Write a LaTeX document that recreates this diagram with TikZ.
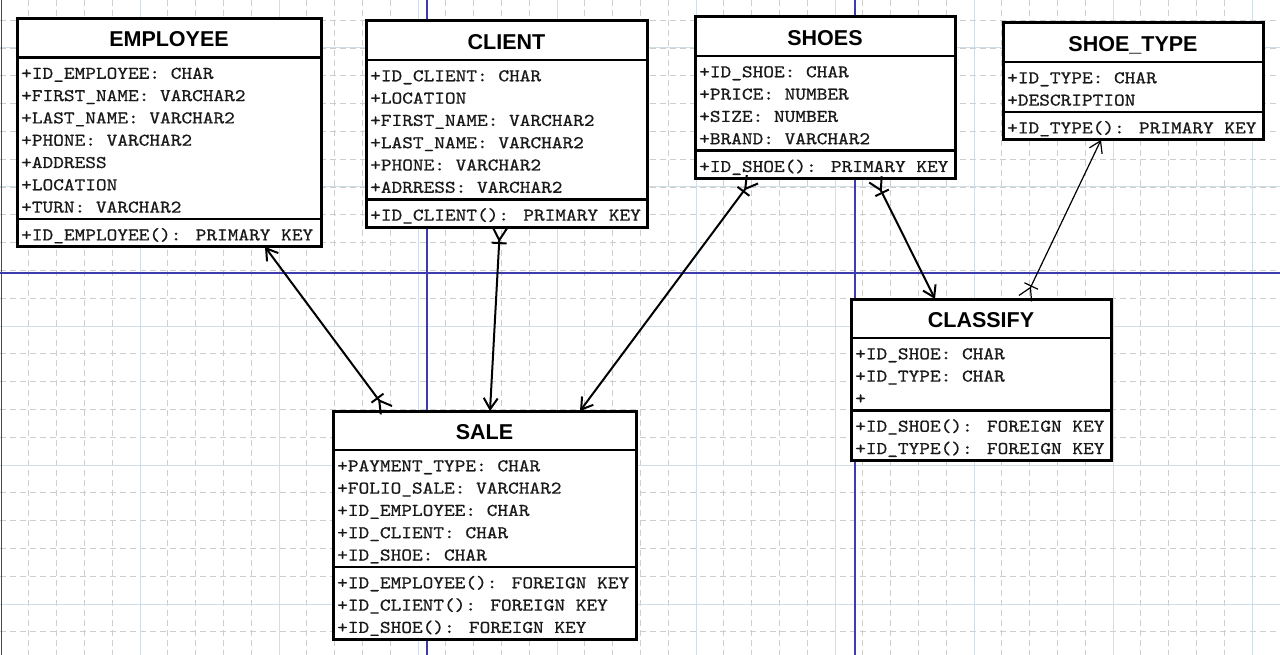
\documentclass[tikz,border=0pt]{standalone}
\usepackage{fontspec}
\setmainfont{Liberation Sans}
\newfontfamily\umlmono[Extension=.otf, FakeStretch=1.14, FakeBold=0.7]{lmmono10-regular}
\usetikzlibrary{calc,arrows.meta}
\definecolor{gridgray}{RGB}{205,205,205}
\definecolor{gridblue}{RGB}{208,222,232}
\definecolor{pageblue}{RGB}{60,60,175}
% class box: name, left, top, width, title, attributes, methods
\newcommand{\umlclass}[7]{%
  \pgfmathsetmacro\ya{#3+39}%
  \foreach \txt [count=\ii] in {#6}{\xdef\na{\ii}}%
  \foreach \txt [count=\ii] in {#7}{\xdef\nm{\ii}}%
  \pgfmathsetmacro\yb{\ya+22.3*\na+5.5}%
  \pgfmathsetmacro\hh{\yb+22.3*\nm+5.5-#3}%
  \node[umlbox, minimum width=#4, minimum height=\hh, anchor=north west] (#1) at (#2,#3) {};
  \node[umltitle] (#1-title) at ({#2+#4/2},{#3+28.5}) {#5};
  \draw[umlline] (#2,\ya) -- ++(#4,0);
  \draw[umlline] (#2,\yb) -- ++(#4,0);
  \foreach \txt [count=\ii] in {#6}
    \node[umltext] (#1-a\ii) at ({#2+4},{\ya+22.3*\ii-1}) {\txt};
  \foreach \txt [count=\ii] in {#7}
    \node[umltext] (#1-m\ii) at ({#2+4},{\yb+22.3*\ii-1}) {\txt};
}

\begin{document}
\begin{tikzpicture}[x=1pt,y=-1pt,
    minorgrid/.style={draw=gridgray, line width=0.8pt, dash pattern=on 6pt off 4pt},
    majorgrid/.style={draw=gridblue, line width=1pt},
    pageline/.style={draw=pageblue, line width=1.4pt},
    umlbox/.style={draw, line width=3pt, fill=white, inner sep=0pt, outer sep=0pt},
    umlline/.style={line width=2.5pt},
    umltitle/.style={anchor=base, inner sep=0pt, font=\bfseries\fontsize{21.5}{21.5}\selectfont},
    umltext/.style={anchor=base west, inner sep=0pt, text=black!90, font=\umlmono\fontsize{17.85}{22.3}\selectfont},
    rel/.style={line width=2pt,
      {Straight Barb[reversed,length=12pt,width=14pt]Bar[width=15pt]}-{Straight Barb[length=11pt,width=14pt]}}]
  %%%%% START %%%%%

  \useasboundingbox[fill=white] (0,0) rectangle (1280,655);

  % grid
  \foreach \i in {0,...,45} \draw[minorgrid] ({1+27.8*\i},0) -- ++(0,655);
  \foreach \j in {0,...,23} \draw[minorgrid] (0,{20.2+27.8*\j}) -- ++(1280,0);
  \foreach \i in {0,...,9} \draw[majorgrid] ({1+139*\i},0) -- ++(0,655);
  \foreach \j in {0,...,4} \draw[majorgrid] (0,{48+139*\j}) -- ++(1280,0);
  \foreach \i in {1.5,427,855} \draw[pageline] (\i,0) -- ++(0,655);
  \draw[pageline] (0,273) -- ++(1280,0);

  % classes
  \umlclass{employee}{17}{18.5}{304}{EMPLOYEE}
    {+ID\_EMPLOYEE: CHAR, +FIRST\_NAME: VARCHAR2, +LAST\_NAME: VARCHAR2, +PHONE: VARCHAR2, +ADDRESS, +LOCATION, +TURN: VARCHAR2}
    {+ID\_EMPLOYEE(): PRIMARY KEY}
  \umlclass{client}{366}{21}{281}{CLIENT}
    {+ID\_CLIENT: CHAR, +LOCATION, +FIRST\_NAME: VARCHAR2, +LAST\_NAME: VARCHAR2, +PHONE: VARCHAR2, +ADRRESS: VARCHAR2}
    {+ID\_CLIENT(): PRIMARY KEY}
  \umlclass{shoes}{695}{17}{260}{SHOES}
    {+ID\_SHOE: CHAR, +PRICE: NUMBER, +SIZE: NUMBER, +BRAND: VARCHAR2}
    {+ID\_SHOE(): PRIMARY KEY}
  \umlclass{shoetype}{1003}{23}{260}{SHOE\_TYPE}
    {+ID\_TYPE: CHAR, +DESCRIPTION}
    {+ID\_TYPE(): PRIMARY KEY}
  \umlclass{sale}{333}{411}{303}{SALE}
    {+PAYMENT\_TYPE: CHAR, +FOLIO\_SALE: VARCHAR2, +ID\_EMPLOYEE: CHAR, +ID\_CLIENT: CHAR, +ID\_SHOE: CHAR}
    {+ID\_EMPLOYEE(): FOREIGN KEY, +ID\_CLIENT(): FOREIGN KEY, +ID\_SHOE(): FOREIGN KEY}
  \umlclass{classify}{851}{299}{260}{CLASSIFY}
    {+ID\_SHOE: CHAR, +ID\_TYPE: CHAR, +}
    {+ID\_SHOE(): FOREIGN KEY, +ID\_TYPE(): FOREIGN KEY}

  % relations
  \draw[rel] ($(sale.north west)+(54,0)$) -- ($(employee.south west)+(248,0)$);
  \draw[rel] ($(client.south west)+(134,0)$) -- ($(sale.north west)+(157,0)$);
  \draw[rel] ($(shoes.south west)+(58,0)$) -- ($(sale.north west)+(247,0)$);
  \draw[rel] ($(shoes.south west)+(180,0)$) -- ($(classify.north west)+(84,0)$);
  \draw[rel, line width=1.2pt] ($(classify.north west)+(174,0)$) -- ($(shoetype.south west)+(98,0)$);

  %%%%% END %%%%%
\end{tikzpicture}
\end{document}
